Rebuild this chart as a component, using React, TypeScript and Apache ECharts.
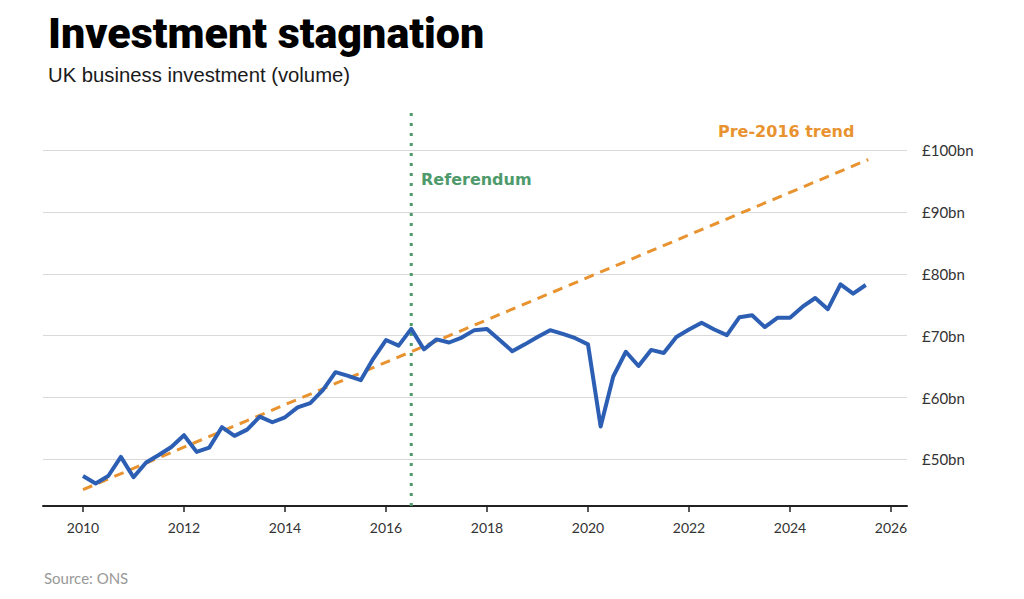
import React, { useEffect, useRef } from "react";
import * as echarts from "echarts";

const titleText = "Investment stagnation";
const subtitleText = "UK business investment (volume)";
const sourceText = "Source: ONS";
const referendumLabel = "Referendum";
const trendLabel = "Pre-2016 trend";

// Quarterly series starting 2010 Q1 (£bn)
const firstQuarter = 2010;
const investment = [
  47.3, 46.1, 47.3, 50.4,
  47.1, 49.5, 50.7, 52.0,
  53.9, 51.2, 51.9, 55.2,
  53.8, 54.8, 56.9, 56.0,
  56.8, 58.4, 59.1, 61.2,
  64.1, 63.5, 62.8, 66.3,
  69.3, 68.4, 71.1, 67.8,
  69.4, 68.9, 69.7, 70.9,
  71.1, 69.3, 67.5, 68.6,
  69.8, 70.9, 70.3, 69.6,
  68.6, 55.3, 63.4, 67.4,
  65.1, 67.7, 67.2, 69.8,
  71.0, 72.1, 71.0, 70.1,
  73.0, 73.3, 71.4, 72.9,
  72.9, 74.7, 76.1, 74.3,
  78.3, 76.8, 78.2,
];

const trendPoints = [
  [2010, 45.1],
  [2025.55, 98.5],
];
const referendumDate = 2016.5;

const xTicks = [2010, 2012, 2014, 2016, 2018, 2020, 2022, 2024, 2026];
const yTicks = [50, 60, 70, 80, 90, 100];
const xMin = 2009.208;
const xMax = 2026.317;
const yMin = 42.45;
const yMax = 107;

export default function App() {
  const ref = useRef<HTMLDivElement>(null);
  useEffect(() => {
    if (!ref.current) return;
    const chart = echarts.init(ref.current, null, { renderer: "svg" });
    const tickFont = "Lato, 'Noto Sans', sans-serif";
    const noteFont = "'DejaVu Sans', Verdana, sans-serif";
    chart.setOption({
      animation: false,
      backgroundColor: "#ffffff",
      grid: { left: 43, right: 117, top: 107, bottom: 93 },
      xAxis: {
        type: "value",
        min: xMin,
        max: xMax,
        axisLine: { show: true, lineStyle: { color: "#222", width: 2 } },
        axisTick: {
          show: true,
          customValues: xTicks,
          length: 6,
          lineStyle: { color: "#222", width: 1.5 },
        },
        axisLabel: {
          customValues: xTicks,
          formatter: (v: number) => String(v),
          fontFamily: tickFont,
          fontSize: 14,
          color: "#333",
          margin: 14,
        },
        splitLine: { show: false },
      },
      yAxis: {
        type: "value",
        position: "right",
        min: yMin,
        max: yMax,
        axisLine: { show: false },
        axisTick: { show: false, customValues: yTicks },
        axisLabel: {
          customValues: yTicks,
          formatter: "£{value}bn",
          fontFamily: tickFont,
          fontSize: 15,
          color: "#333",
          margin: 15,
        },
        splitLine: { show: true, lineStyle: { color: "#d9d9d9", width: 1 } },
      },
      series: [
        {
          type: "line",
          data: [
            [referendumDate, yMin],
            [referendumDate, yMax],
          ],
          symbol: "none",
          silent: true,
          z: 1,
          lineStyle: { color: "#4e9a6b", width: 3, type: [3, 7] },
        },
        {
          type: "line",
          data: trendPoints,
          symbol: "none",
          silent: true,
          z: 2,
          lineStyle: { color: "#e8932f", width: 3, type: [10, 7] },
        },
        {
          type: "line",
          data: investment.map((v, i) => [firstQuarter + i / 4, v]),
          symbol: "none",
          silent: true,
          z: 3,
          lineStyle: { color: "#2c5fb3", width: 4, join: "round" },
        },
      ],
      graphic: [
        {
          type: "text",
          left: 48,
          top: 11,
          style: {
            text: titleText,
            fontFamily: "Roboto, 'Liberation Sans', sans-serif",
            fontWeight: 900,
            fontSize: 43,
            fill: "#000",
          },
        },
        {
          type: "text",
          left: 48,
          top: 65,
          style: {
            text: subtitleText,
            fontFamily: "'Liberation Sans', Arial, sans-serif",
            fontSize: 20.3,
            fill: "#1a1a1a",
          },
        },
        {
          type: "text",
          left: 421,
          top: 171,
          style: {
            text: referendumLabel,
            fontFamily: noteFont,
            fontWeight: "bold",
            fontSize: 16,
            fill: "#4e9a6b",
          },
        },
        {
          type: "text",
          left: 718,
          top: 123,
          style: {
            text: trendLabel,
            fontFamily: noteFont,
            fontWeight: "bold",
            fontSize: 16,
            fill: "#e8932f",
          },
        },
        {
          type: "text",
          left: 44,
          top: 570,
          style: {
            text: sourceText,
            fontFamily: tickFont,
            fontSize: 15,
            fill: "#999",
          },
        },
      ],
    });
    return () => chart.dispose();
  }, []);
  return (
    <div
      ref={ref}
      style={{ position: "absolute", left: 0, top: 0, width: 1024, height: 599 }}
    />
  );
}
